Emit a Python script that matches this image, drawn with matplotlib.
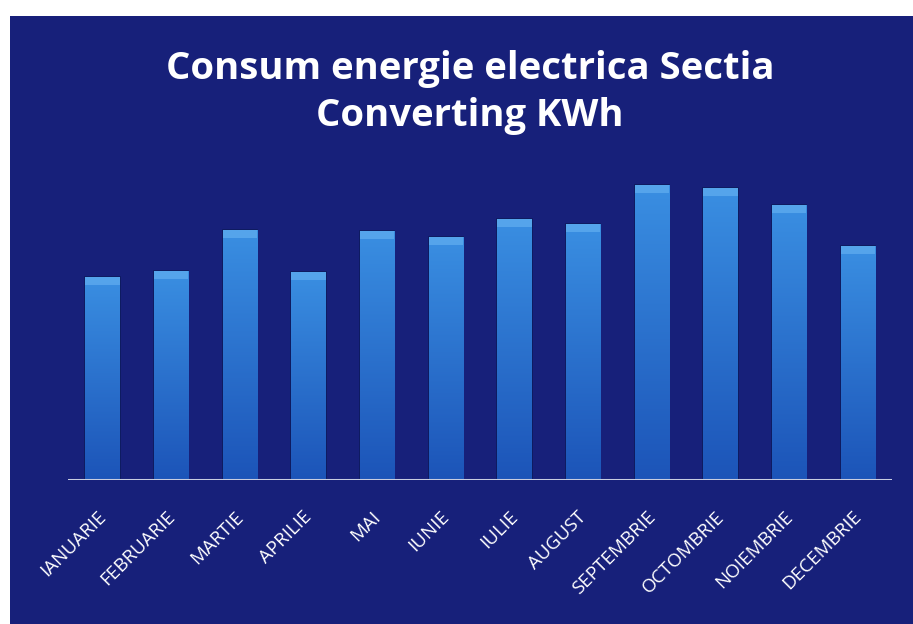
import numpy as np
import matplotlib.pyplot as plt
from matplotlib.patches import Rectangle
from matplotlib.colors import LinearSegmentedColormap
from matplotlib.transforms import ScaledTranslation

# monthly consumption (arbitrary units - no axis in original)
months = [
    "IANUARIE", "FEBRUARIE", "MARTIE", "APRILIE", "MAI", "IUNIE",
    "IULIE", "AUGUST", "SEPTEMBRIE", "OCTOMBRIE", "NOIEMBRIE", "DECEMBRIE",
]
consum = [203, 209, 250, 208, 249, 243, 261, 256, 295, 292, 275, 234]

title = "Consum energie electrica Sectia\nConverting KWh"

bg_color = "#17207a"
bar_top = "#3a8fe2"
bar_bottom = "#1c54b8"

fig = plt.figure(figsize=(9.13, 6.24), dpi=100, facecolor=bg_color)

# white scan margin at top and left
fig.patches.append(Rectangle((0, 0.975), 1, 0.025, transform=fig.transFigure,
                             facecolor="white", edgecolor="none"))
fig.patches.append(Rectangle((0, 0), 0.011, 1, transform=fig.transFigure,
                             facecolor="white", edgecolor="none"))

ax = fig.add_axes([0.0745, 0.231, 0.9025, 0.529])
ax.set_facecolor("none")

x = np.arange(len(months))
bars = ax.bar(x, consum, width=0.5, color=bar_top, edgecolor="#0d1a5c",
              linewidth=1.2, zorder=2)

# vertical gradient inside each bar
grad = np.linspace(0, 1, 256).reshape(-1, 1)
cmap = LinearSegmentedColormap.from_list("bargrad", [bar_bottom, bar_top])
for b in bars:
    x0, w, h = b.get_x(), b.get_width(), b.get_height()
    im = ax.imshow(grad, extent=(x0, x0 + w, 0, h), origin="lower",
                   cmap=cmap, aspect="auto", zorder=2.5)
    im.set_clip_path(b)
    # lighter bevel cap at the top
    ax.add_patch(Rectangle((x0, h - 8), w, 8, facecolor="#62aef0",
                           edgecolor="none", alpha=0.7, zorder=3))

ax.set_xlim(-0.5, len(months) - 0.5)
ax.set_ylim(0, 330)

ax.axhline(0, color="#c8cde0", linewidth=2.2, zorder=4)

for side in ["top", "right", "left", "bottom"]:
    ax.spines[side].set_visible(False)
ax.set_yticks([])
ax.set_xticks(x)
ax.set_xticklabels(months, rotation=45, ha="right", rotation_mode="anchor",
                   color="white", fontsize=13.5, family="Open Sans")
ax.tick_params(axis="x", length=0, pad=20)
shift = ScaledTranslation(-4 / 72, 0, fig.dpi_scale_trans)
for lbl in ax.get_xticklabels():
    lbl.set_transform(lbl.get_transform() + shift)

fig.text(0.515, 0.852, title, ha="center", va="center", color="white",
         fontsize=27.5, fontweight="bold", family="Open Sans", linespacing=1.3)

fig.savefig("out.png", dpi=100, facecolor=fig.get_facecolor())
